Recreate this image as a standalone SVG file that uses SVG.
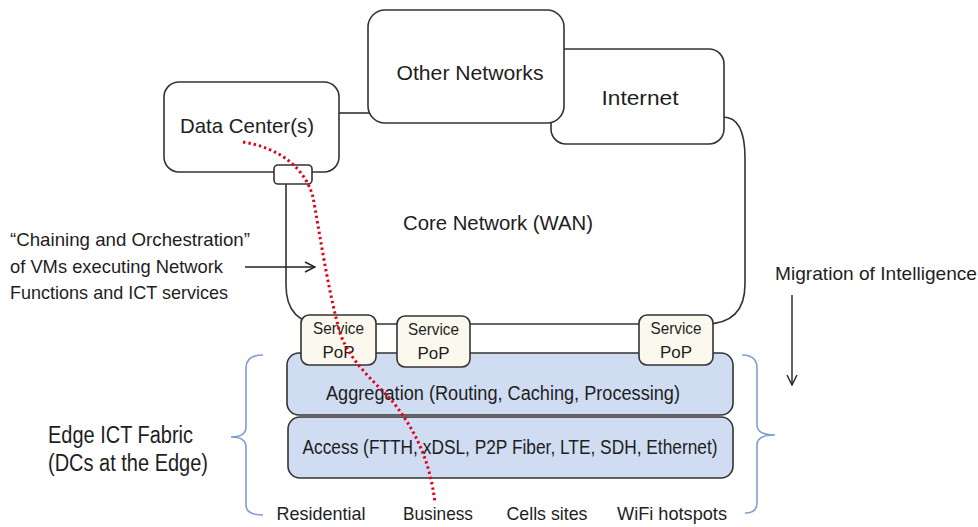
<svg xmlns="http://www.w3.org/2000/svg" width="978" height="527" viewBox="0 0 978 527">
<defs>
<style>
text{font-family:"Liberation Sans",Arial,sans-serif;fill:#1e1e1e}
.box{fill:#fff;stroke:#333;stroke-width:1.6}
.pop{fill:#fbf9ee;stroke:#333;stroke-width:1.6}
.layer{fill:#cfdcf1;stroke:#333;stroke-width:1.6}
.line{fill:none;stroke:#333;stroke-width:1.6}
.brace{fill:none;stroke:#7f9fcf;stroke-width:1.6}
.arr{fill:none;stroke:#222;stroke-width:1.4}
.red{fill:none;stroke:#e2001a;stroke-width:3;stroke-dasharray:2.4 3}
.m{text-anchor:middle}
</style>
<marker id="open" viewBox="0 0 12 12" refX="11" refY="6" markerWidth="12" markerHeight="12" markerUnits="userSpaceOnUse" orient="auto">
<path d="M1,1 L11,6 L1,11" fill="none" stroke="#222" stroke-width="1.4"/>
</marker>
</defs>
<g id="connectors">
<path class="line" d="M339,113 H369"/>
<path class="line" d="M286,184 V285 Q286,324 324,324 H705 Q745,324 745,284 V158 Q745,117 723,117"/>
</g>
<g id="internet"><rect class="box" x="551" y="49" width="173" height="95" rx="15"/><text class="m" x="640" y="105" font-size="21" textLength="77" lengthAdjust="spacingAndGlyphs">Internet</text></g>
<g id="other-networks"><rect class="box" x="368" y="10" width="196" height="113" rx="17"/><text class="m" x="470" y="80" font-size="21" textLength="147" lengthAdjust="spacingAndGlyphs">Other Networks</text></g>
<g id="data-center"><rect class="box" x="164" y="82" width="175" height="90" rx="15"/><text class="m" x="247" y="133" font-size="21" textLength="134" lengthAdjust="spacingAndGlyphs">Data Center(s)</text>
<rect class="box" x="274" y="165" width="38" height="19" rx="4"/></g>
<g id="core-network"><text class="m" x="498" y="230" font-size="21" textLength="190" lengthAdjust="spacingAndGlyphs">Core Network (WAN)</text></g>
<g id="aggregation"><rect class="layer" x="287" y="353" width="446" height="62" rx="12"/><text class="m" x="503" y="400" font-size="20" textLength="354" lengthAdjust="spacingAndGlyphs">Aggregation (Routing, Caching, Processing)</text></g>
<g id="access"><rect class="layer" x="288" y="417" width="445" height="61" rx="12"/><text class="m" x="510" y="454" font-size="20" textLength="415" lengthAdjust="spacingAndGlyphs">Access (FTTH, xDSL, P2P Fiber, LTE, SDH, Ethernet)</text></g>
<g id="pop1"><rect class="pop" x="301" y="315" width="75" height="50" rx="8"/><text class="m" x="338.5" y="334" font-size="17" textLength="51" lengthAdjust="spacingAndGlyphs">Service</text><text class="m" x="338.5" y="358" font-size="17">PoP</text></g>
<g id="pop2"><rect class="pop" x="397" y="316" width="73" height="51" rx="8"/><text class="m" x="433.5" y="335" font-size="17" textLength="51" lengthAdjust="spacingAndGlyphs">Service</text><text class="m" x="433.5" y="359" font-size="17">PoP</text></g>
<g id="pop3"><rect class="pop" x="639" y="315" width="74" height="50" rx="8"/><text class="m" x="676" y="334" font-size="17" textLength="51" lengthAdjust="spacingAndGlyphs">Service</text><text class="m" x="676" y="358" font-size="17">PoP</text></g>
<g id="chaining-label">
<text x="10" y="246" font-size="19" textLength="240" lengthAdjust="spacingAndGlyphs">“Chaining and Orchestration”</text>
<text x="10" y="273" font-size="19" textLength="213" lengthAdjust="spacingAndGlyphs">of VMs executing Network</text>
<text x="10" y="299" font-size="19" textLength="218" lengthAdjust="spacingAndGlyphs">Functions and ICT services</text>
<path class="arr" d="M245,267 H315" marker-end="url(#open)"/>
</g>
<g id="migration">
<text x="775" y="280" font-size="19" textLength="202" lengthAdjust="spacingAndGlyphs">Migration of Intelligence</text>
<path class="arr" d="M792,295 V385" marker-end="url(#open)"/>
</g>
<g id="edge-fabric">
<text x="48" y="443" font-size="23" textLength="145" lengthAdjust="spacingAndGlyphs">Edge ICT Fabric</text>
<text x="48" y="471" font-size="23" textLength="160" lengthAdjust="spacingAndGlyphs">(DCs at the Edge)</text>
<path class="brace" d="M263,355 Q246,355 246,368 V427 Q246,437 231,437 Q246,437 246,447 V505 Q246,515 263,515"/>
<path class="brace" d="M742,355 Q757,355 757,368 V425 Q757,435 775,435 Q757,435 757,445 V503 Q757,513 745,513"/>
</g>
<g id="sites">
<text class="m" x="321" y="520" font-size="19" textLength="89" lengthAdjust="spacingAndGlyphs">Residential</text>
<text class="m" x="438" y="520" font-size="19" textLength="70" lengthAdjust="spacingAndGlyphs">Business</text>
<text class="m" x="547" y="520" font-size="19" textLength="81" lengthAdjust="spacingAndGlyphs">Cells sites</text>
<text class="m" x="672" y="520" font-size="19" textLength="110" lengthAdjust="spacingAndGlyphs">WiFi hotspots</text>
</g>
<g id="path">
<path class="red" d="M243,142 C280,148 305,168 313,197 C320,235 328,290 340,333 C350,362 375,382 393,402 C415,430 430,460 435,503"/>
</g>
</svg>
